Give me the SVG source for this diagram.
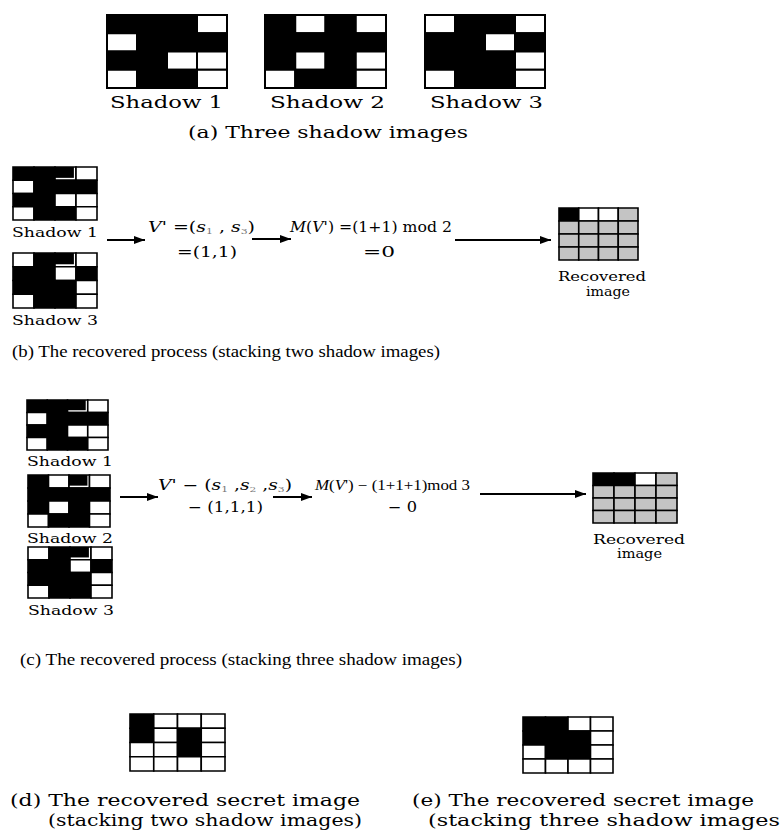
<svg xmlns="http://www.w3.org/2000/svg" width="782" height="831" viewBox="0 0 782 831">
<style>
text{font-family:"DejaVu Serif","Liberation Serif",serif;fill:#000}
.cap{font-size:16px}
.cap2{font-size:16px;font-family:"Liberation Serif","Times New Roman",serif}
.lab{font-size:17px}
.sm{font-size:12.5px}
.fm{font-size:14px}
.fm2{font-size:14px;font-family:"Liberation Serif","Times New Roman",serif}
.it{font-style:italic}
.sub{font-size:8px;fill:#777}
.grid rect{stroke:#000;stroke-width:1.6;vector-effect:non-scaling-stroke}
.big rect{stroke-width:2}
.grid rect.in{stroke:none;fill:#000}
.B{fill:#000}.W{fill:#fff}.G{fill:#c4c4c4}
.conn line{stroke:#000;stroke-width:2;marker-end:url(#ah)}
</style>
<defs>
<marker id="ah" markerUnits="userSpaceOnUse" markerWidth="11" markerHeight="8" refX="11" refY="4" orient="auto"><path d="M0,0 L11,4 L0,8 z" fill="#000"/></marker>
</defs>
<rect width="782" height="831" fill="#fff"/>

<!-- (a) -->
<g id="a-shadow1" class="grid big" transform="translate(107,15) scale(30,18.25)">
<rect class="B" x="0" y="0" width="1" height="1"/><rect class="B" x="1" y="0" width="1" height="1"/><rect class="B" x="2" y="0" width="1" height="1"/><rect class="W" x="3" y="0" width="1" height="1"/>
<rect class="W" x="0" y="1" width="1" height="1"/><rect class="B" x="1" y="1" width="1" height="1"/><rect class="B" x="2" y="1" width="1" height="1"/><rect class="B" x="3" y="1" width="1" height="1"/>
<rect class="B" x="0" y="2" width="1" height="1"/><rect class="B" x="1" y="2" width="1" height="1"/><rect class="W" x="2" y="2" width="1" height="1"/><rect class="W" x="3" y="2" width="1" height="1"/>
<rect class="W" x="0" y="3" width="1" height="1"/><rect class="B" x="1" y="3" width="1" height="1"/><rect class="B" x="2" y="3" width="1" height="1"/><rect class="W" x="3" y="3" width="1" height="1"/>
</g>
<g id="a-shadow2" class="grid big" transform="translate(265,15) scale(30.25,18.25)">
<rect class="B" x="0" y="0" width="1" height="1"/><rect class="W" x="1" y="0" width="1" height="1"/><rect class="B" x="2" y="0" width="1" height="1"/><rect class="W" x="3" y="0" width="1" height="1"/>
<rect class="B" x="0" y="1" width="1" height="1"/><rect class="B" x="1" y="1" width="1" height="1"/><rect class="B" x="2" y="1" width="1" height="1"/><rect class="B" x="3" y="1" width="1" height="1"/>
<rect class="B" x="0" y="2" width="1" height="1"/><rect class="W" x="1" y="2" width="1" height="1"/><rect class="B" x="2" y="2" width="1" height="1"/><rect class="W" x="3" y="2" width="1" height="1"/>
<rect class="W" x="0" y="3" width="1" height="1"/><rect class="B" x="1" y="3" width="1" height="1"/><rect class="B" x="2" y="3" width="1" height="1"/><rect class="W" x="3" y="3" width="1" height="1"/>
</g>
<g id="a-shadow3" class="grid big" transform="translate(425,15) scale(30,18.25)">
<rect class="W" x="0" y="0" width="1" height="1"/><rect class="B" x="1" y="0" width="1" height="1"/><rect class="B" x="2" y="0" width="1" height="1"/><rect class="W" x="3" y="0" width="1" height="1"/>
<rect class="B" x="0" y="1" width="1" height="1"/><rect class="B" x="1" y="1" width="1" height="1"/><rect class="W" x="2" y="1" width="1" height="1"/><rect class="B" x="3" y="1" width="1" height="1"/>
<rect class="B" x="0" y="2" width="1" height="1"/><rect class="B" x="1" y="2" width="1" height="1"/><rect class="B" x="2" y="2" width="1" height="1"/><rect class="W" x="3" y="2" width="1" height="1"/>
<rect class="W" x="0" y="3" width="1" height="1"/><rect class="B" x="1" y="3" width="1" height="1"/><rect class="B" x="2" y="3" width="1" height="1"/><rect class="W" x="3" y="3" width="1" height="1"/>
</g>
<g id="a-labels">
<text class="lab" x="110" y="108" textLength="113" lengthAdjust="spacingAndGlyphs">Shadow 1</text>
<text class="lab" x="270" y="108" textLength="115" lengthAdjust="spacingAndGlyphs">Shadow 2</text>
<text class="lab" x="430" y="108" textLength="113" lengthAdjust="spacingAndGlyphs">Shadow 3</text>
<text class="cap" x="188" y="138" textLength="280" lengthAdjust="spacingAndGlyphs">(a) Three shadow images</text>
</g>

<!-- (b) -->
<g id="b-shadow1" class="grid" transform="translate(13,167) scale(21,13.25)">
<rect class="B" x="0" y="0" width="1" height="1"/><rect class="B" x="1" y="0" width="1" height="1"/><rect class="W" x="2" y="0" width="1" height="1"/><rect class="W" x="3" y="0" width="1" height="1"/>
<rect class="in" x="2" y="0" width="0.9" height="0.82"/>
<rect class="W" x="0" y="1" width="1" height="1"/><rect class="B" x="1" y="1" width="1" height="1"/><rect class="B" x="2" y="1" width="1" height="1"/><rect class="B" x="3" y="1" width="1" height="1"/>
<rect class="B" x="0" y="2" width="1" height="1"/><rect class="B" x="1" y="2" width="1" height="1"/><rect class="W" x="2" y="2" width="1" height="1"/><rect class="W" x="3" y="2" width="1" height="1"/>
<rect class="W" x="0" y="3" width="1" height="1"/><rect class="B" x="1" y="3" width="1" height="1"/><rect class="B" x="2" y="3" width="1" height="1"/><rect class="W" x="3" y="3" width="1" height="1"/>
</g>
<text class="sm" x="12" y="237" textLength="86" lengthAdjust="spacingAndGlyphs">Shadow 1</text>
<g id="b-shadow3" class="grid" transform="translate(13,253) scale(21,13.75)">
<rect class="W" x="0" y="0" width="1" height="1"/><rect class="B" x="1" y="0" width="1" height="1"/><rect class="W" x="2" y="0" width="1" height="1"/><rect class="W" x="3" y="0" width="1" height="1"/>
<rect class="in" x="2" y="0" width="0.9" height="0.82"/>
<rect class="B" x="0" y="1" width="1" height="1"/><rect class="B" x="1" y="1" width="1" height="1"/><rect class="W" x="2" y="1" width="1" height="1"/><rect class="B" x="3" y="1" width="1" height="1"/>
<rect class="B" x="0" y="2" width="1" height="1"/><rect class="B" x="1" y="2" width="1" height="1"/><rect class="B" x="2" y="2" width="1" height="1"/><rect class="W" x="3" y="2" width="1" height="1"/>
<rect class="W" x="0" y="3" width="1" height="1"/><rect class="B" x="1" y="3" width="1" height="1"/><rect class="B" x="2" y="3" width="1" height="1"/><rect class="W" x="3" y="3" width="1" height="1"/>
</g>
<text class="sm" x="12" y="325" textLength="86" lengthAdjust="spacingAndGlyphs">Shadow 3</text>
<g id="b-formula1">
<text class="fm" x="148" y="232" textLength="107" lengthAdjust="spacingAndGlyphs"><tspan class="it">V</tspan>' =(<tspan class="it">s</tspan><tspan class="sub" dy="2">1</tspan><tspan dy="-2"> , </tspan><tspan class="it">s</tspan><tspan class="sub" dy="2">3</tspan><tspan dy="-2">)</tspan></text>
<text class="fm" x="177" y="257" textLength="60" lengthAdjust="spacingAndGlyphs">=(1,1)</text>
</g>
<g id="b-formula2">
<text class="fm" x="290" y="232" textLength="162" lengthAdjust="spacingAndGlyphs"><tspan class="it">M</tspan>(<tspan class="it">V</tspan>') =(1+1) mod 2</text>
<text class="fm" x="363" y="257" textLength="32" lengthAdjust="spacingAndGlyphs">=0</text>
</g>
<g id="b-recovered" class="grid" transform="translate(559,208) scale(19.75,13)">
<rect class="B" x="0" y="0" width="1" height="1"/><rect class="W" x="1" y="0" width="1" height="1"/><rect class="W" x="2" y="0" width="1" height="1"/><rect class="G" x="3" y="0" width="1" height="1"/>
<rect class="G" x="0" y="1" width="1" height="1"/><rect class="G" x="1" y="1" width="1" height="1"/><rect class="G" x="2" y="1" width="1" height="1"/><rect class="G" x="3" y="1" width="1" height="1"/>
<rect class="G" x="0" y="2" width="1" height="1"/><rect class="G" x="1" y="2" width="1" height="1"/><rect class="G" x="2" y="2" width="1" height="1"/><rect class="G" x="3" y="2" width="1" height="1"/>
<rect class="G" x="0" y="3" width="1" height="1"/><rect class="G" x="1" y="3" width="1" height="1"/><rect class="G" x="2" y="3" width="1" height="1"/><rect class="G" x="3" y="3" width="1" height="1"/>
</g>
<text class="sm" x="558" y="281" textLength="88" lengthAdjust="spacingAndGlyphs">Recovered</text>
<text class="sm" x="586" y="296" textLength="44" lengthAdjust="spacingAndGlyphs">image</text>
<text class="cap2" x="12" y="357" textLength="428" lengthAdjust="spacingAndGlyphs">(b) The recovered process (stacking two shadow images)</text>

<!-- (c) -->
<g id="c-shadow1" class="grid" transform="translate(27,400) scale(20.25,12.5)">
<rect class="B" x="0" y="0" width="1" height="1"/><rect class="B" x="1" y="0" width="1" height="1"/><rect class="W" x="2" y="0" width="1" height="1"/><rect class="W" x="3" y="0" width="1" height="1"/>
<rect class="in" x="2" y="0" width="0.9" height="0.82"/>
<rect class="W" x="0" y="1" width="1" height="1"/><rect class="B" x="1" y="1" width="1" height="1"/><rect class="B" x="2" y="1" width="1" height="1"/><rect class="B" x="3" y="1" width="1" height="1"/>
<rect class="B" x="0" y="2" width="1" height="1"/><rect class="B" x="1" y="2" width="1" height="1"/><rect class="W" x="2" y="2" width="1" height="1"/><rect class="W" x="3" y="2" width="1" height="1"/>
<rect class="W" x="0" y="3" width="1" height="1"/><rect class="B" x="1" y="3" width="1" height="1"/><rect class="B" x="2" y="3" width="1" height="1"/><rect class="W" x="3" y="3" width="1" height="1"/>
</g>
<text class="sm" x="27" y="466" textLength="86" lengthAdjust="spacingAndGlyphs">Shadow 1</text>
<g id="c-shadow2" class="grid" transform="translate(28,475) scale(20.5,13)">
<rect class="B" x="0" y="0" width="1" height="1"/><rect class="W" x="1" y="0" width="1" height="1"/><rect class="W" x="2" y="0" width="1" height="1"/><rect class="W" x="3" y="0" width="1" height="1"/>
<rect class="in" x="2" y="0" width="0.9" height="0.82"/>
<rect class="B" x="0" y="1" width="1" height="1"/><rect class="B" x="1" y="1" width="1" height="1"/><rect class="B" x="2" y="1" width="1" height="1"/><rect class="B" x="3" y="1" width="1" height="1"/>
<rect class="B" x="0" y="2" width="1" height="1"/><rect class="W" x="1" y="2" width="1" height="1"/><rect class="B" x="2" y="2" width="1" height="1"/><rect class="W" x="3" y="2" width="1" height="1"/>
<rect class="W" x="0" y="3" width="1" height="1"/><rect class="B" x="1" y="3" width="1" height="1"/><rect class="B" x="2" y="3" width="1" height="1"/><rect class="W" x="3" y="3" width="1" height="1"/>
</g>
<text class="sm" x="27" y="543" textLength="86" lengthAdjust="spacingAndGlyphs">Shadow 2</text>
<g id="c-shadow3" class="grid" transform="translate(28,547) scale(21,12.75)">
<rect class="W" x="0" y="0" width="1" height="1"/><rect class="B" x="1" y="0" width="1" height="1"/><rect class="W" x="2" y="0" width="1" height="1"/><rect class="W" x="3" y="0" width="1" height="1"/>
<rect class="in" x="2" y="0" width="0.9" height="0.82"/>
<rect class="B" x="0" y="1" width="1" height="1"/><rect class="B" x="1" y="1" width="1" height="1"/><rect class="W" x="2" y="1" width="1" height="1"/><rect class="B" x="3" y="1" width="1" height="1"/>
<rect class="B" x="0" y="2" width="1" height="1"/><rect class="B" x="1" y="2" width="1" height="1"/><rect class="B" x="2" y="2" width="1" height="1"/><rect class="W" x="3" y="2" width="1" height="1"/>
<rect class="W" x="0" y="3" width="1" height="1"/><rect class="B" x="1" y="3" width="1" height="1"/><rect class="B" x="2" y="3" width="1" height="1"/><rect class="W" x="3" y="3" width="1" height="1"/>
</g>
<text class="sm" x="28" y="615" textLength="86" lengthAdjust="spacingAndGlyphs">Shadow 3</text>
<g id="c-formula1">
<text class="fm" x="158" y="490" textLength="134" lengthAdjust="spacingAndGlyphs"><tspan class="it">V</tspan>' − (<tspan class="it">s</tspan><tspan class="sub" dy="2">1</tspan><tspan dy="-2"> ,</tspan><tspan class="it">s</tspan><tspan class="sub" dy="2">2</tspan><tspan dy="-2"> ,</tspan><tspan class="it">s</tspan><tspan class="sub" dy="2">3</tspan><tspan dy="-2">)</tspan></text>
<text class="fm" x="188" y="512" textLength="75" lengthAdjust="spacingAndGlyphs">− (1,1,1)</text>
</g>
<g id="c-formula2">
<text class="fm2" x="315" y="490" textLength="155" lengthAdjust="spacingAndGlyphs"><tspan class="it">M</tspan>(<tspan class="it">V</tspan>') − (1+1+1)mod 3</text>
<text class="fm" x="388" y="512" textLength="29" lengthAdjust="spacingAndGlyphs">− 0</text>
</g>
<g id="c-recovered" class="grid" transform="translate(593,473) scale(21,12.5)">
<rect class="B" x="0" y="0" width="1" height="1"/><rect class="B" x="1" y="0" width="1" height="1"/><rect class="W" x="2" y="0" width="1" height="1"/><rect class="G" x="3" y="0" width="1" height="1"/>
<rect class="G" x="0" y="1" width="1" height="1"/><rect class="G" x="1" y="1" width="1" height="1"/><rect class="G" x="2" y="1" width="1" height="1"/><rect class="G" x="3" y="1" width="1" height="1"/>
<rect class="G" x="0" y="2" width="1" height="1"/><rect class="G" x="1" y="2" width="1" height="1"/><rect class="G" x="2" y="2" width="1" height="1"/><rect class="G" x="3" y="2" width="1" height="1"/>
<rect class="G" x="0" y="3" width="1" height="1"/><rect class="G" x="1" y="3" width="1" height="1"/><rect class="G" x="2" y="3" width="1" height="1"/><rect class="G" x="3" y="3" width="1" height="1"/>
</g>
<text class="sm" x="593" y="544" textLength="92" lengthAdjust="spacingAndGlyphs">Recovered</text>
<text class="sm" x="617" y="558" textLength="45" lengthAdjust="spacingAndGlyphs">image</text>
<text class="cap2" x="20" y="665" textLength="442" lengthAdjust="spacingAndGlyphs">(c) The recovered process (stacking three shadow images)</text>

<!-- (d) and (e) -->
<g id="d-secret" class="grid" transform="translate(130,714) scale(23.75,14.25)">
<rect class="B" x="0" y="0" width="1" height="1"/><rect class="W" x="1" y="0" width="1" height="1"/><rect class="W" x="2" y="0" width="1" height="1"/><rect class="W" x="3" y="0" width="1" height="1"/>
<rect class="B" x="0" y="1" width="1" height="1"/><rect class="W" x="1" y="1" width="1" height="1"/><rect class="B" x="2" y="1" width="1" height="1"/><rect class="W" x="3" y="1" width="1" height="1"/>
<rect class="W" x="0" y="2" width="1" height="1"/><rect class="W" x="1" y="2" width="1" height="1"/><rect class="B" x="2" y="2" width="1" height="1"/><rect class="W" x="3" y="2" width="1" height="1"/>
<rect class="W" x="0" y="3" width="1" height="1"/><rect class="W" x="1" y="3" width="1" height="1"/><rect class="W" x="2" y="3" width="1" height="1"/><rect class="W" x="3" y="3" width="1" height="1"/>
</g>
<g id="e-secret" class="grid" transform="translate(523,717) scale(22.5,14)">
<rect class="B" x="0" y="0" width="1" height="1"/><rect class="B" x="1" y="0" width="1" height="1"/><rect class="W" x="2" y="0" width="1" height="1"/><rect class="W" x="3" y="0" width="1" height="1"/>
<rect class="B" x="0" y="1" width="1" height="1"/><rect class="B" x="1" y="1" width="1" height="1"/><rect class="B" x="2" y="1" width="1" height="1"/><rect class="W" x="3" y="1" width="1" height="1"/>
<rect class="W" x="0" y="2" width="1" height="1"/><rect class="B" x="1" y="2" width="1" height="1"/><rect class="B" x="2" y="2" width="1" height="1"/><rect class="W" x="3" y="2" width="1" height="1"/>
<rect class="W" x="0" y="3" width="1" height="1"/><rect class="W" x="1" y="3" width="1" height="1"/><rect class="W" x="2" y="3" width="1" height="1"/><rect class="W" x="3" y="3" width="1" height="1"/>
</g>
<g id="captions-de">
<text class="cap" x="10" y="806" textLength="350" lengthAdjust="spacingAndGlyphs">(d) The recovered secret image</text>
<text class="cap" x="48" y="826" textLength="314" lengthAdjust="spacingAndGlyphs">(stacking two shadow images)</text>
<text class="cap" x="412" y="806" textLength="342" lengthAdjust="spacingAndGlyphs">(e) The recovered secret image</text>
<text class="cap" x="428" y="826" textLength="352" lengthAdjust="spacingAndGlyphs">(stacking three shadow images</text>
</g>

<g id="connectors" class="conn">
<line x1="107" y1="240" x2="145" y2="240"/>
<line x1="252" y1="239" x2="291" y2="239"/>
<line x1="455" y1="240" x2="551" y2="240"/>
<line x1="120" y1="497" x2="158" y2="497"/>
<line x1="273" y1="497" x2="312" y2="497"/>
<line x1="480" y1="494" x2="586" y2="494"/>
</g>
</svg>
